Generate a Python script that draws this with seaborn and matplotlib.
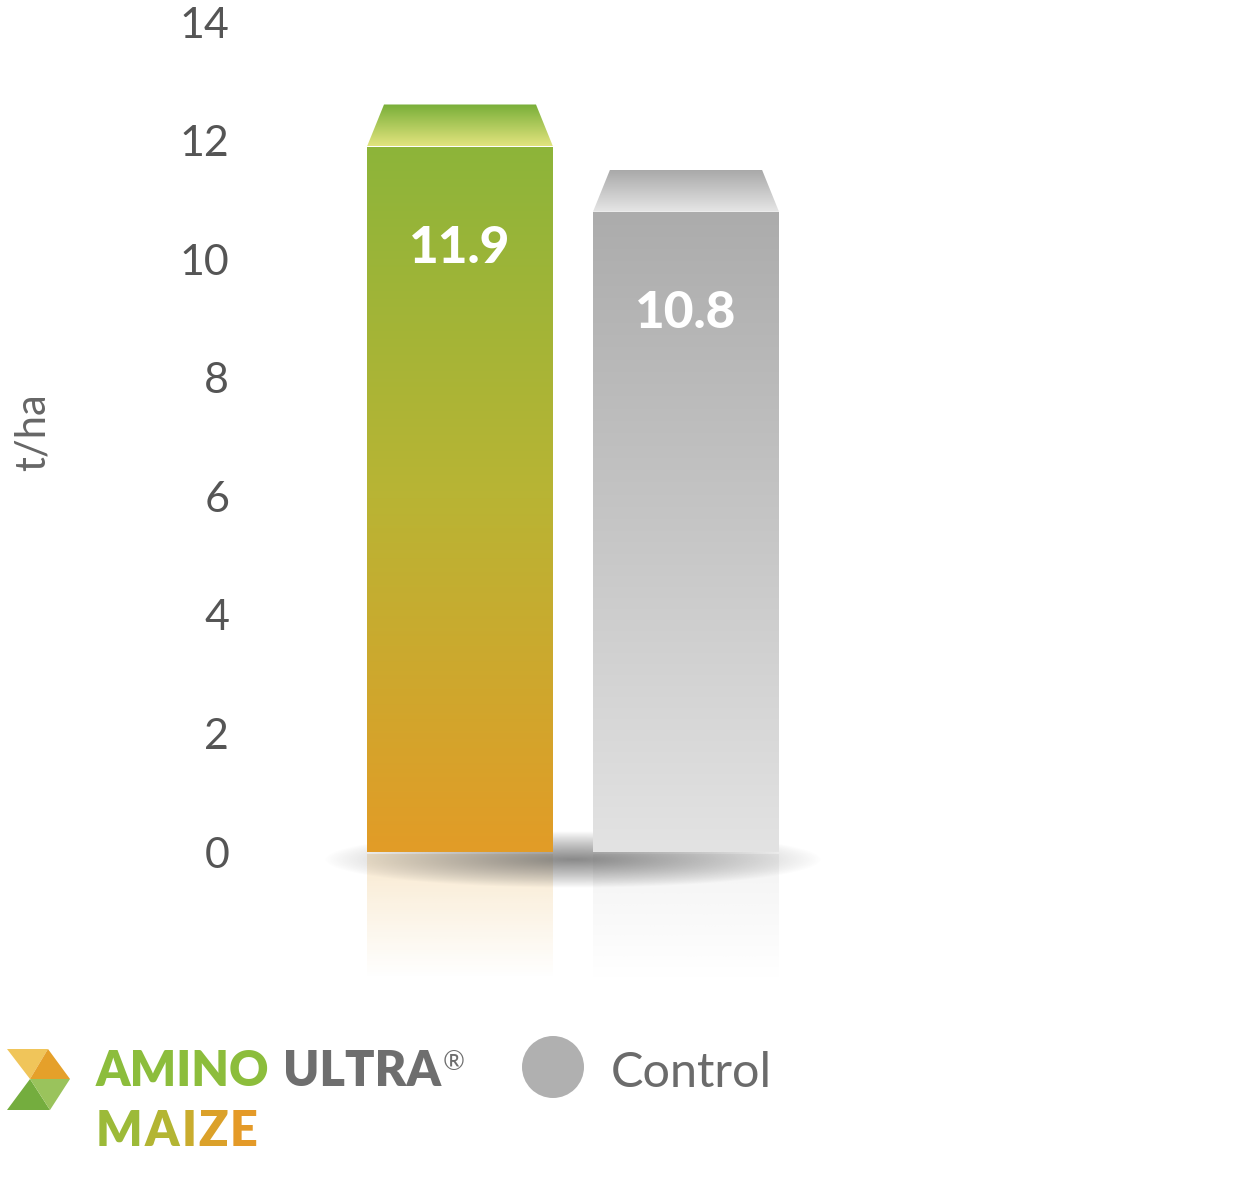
import numpy as np
import pandas as pd
import matplotlib.pyplot as plt
import matplotlib.colors as mcolors
from matplotlib.patches import Polygon, Circle
import seaborn as sns

# data
categories = ["AMINO ULTRA MAIZE", "Control"]
values = [11.9, 10.8]
value_labels = ["11.9", "10.8"]
yticks = [0, 2, 4, 6, 8, 10, 12, 14]
ylabel = "t/ha"

df = pd.DataFrame({"treatment": categories, "yield": values})

sns.set_style("white")
plt.rcParams["font.family"] = ["Lato", "DejaVu Sans"]

W, H = 1238, 1203
fig = plt.figure(figsize=(W / 100, H / 100), dpi=100)


def fx(px):
    return px / W


def fy(py):
    return 1 - py / H


# axes placed so that 0 -> y=852px, 14 -> y=22px
ppu = (852 - 22) / 14.0
ymin, ymax = -4.0, 14.3
ax_bottom = 852 + ymin * -ppu
ax_top = 852 - ymax * ppu
ax = fig.add_axes([fx(250), fy(ax_bottom), fx(1238 - 250), (ax_bottom - ax_top) / H])

sns.barplot(data=df, x="treatment", y="yield", hue="treatment", width=0.823,
            palette=["#a5b832", "#c8c8c8"], legend=False, ax=ax, zorder=3)

xl = (250 - 460) / 226.0
xr = (1238 - 460) / 226.0

grad_front = [("#8db53a", "#b9b434", "#e29c27"), ("#acacac", "#c6c6c6", "#e3e3e3")]
grad_top = [("#78ae38", "#e2e47e"), ("#a9a9a9", "#e6e6e6")]
refl_col = ["#e29c27", "#d8d8d8"]


def vgrad(cols, n=256):
    cmap = mcolors.LinearSegmentedColormap.from_list("g", cols)
    return cmap(np.linspace(0, 1, n))[:, None, :]


# soft ground shadow
sx = np.linspace(-1, 1, 400)
sy = np.linspace(-1, 1, 100)
SX, SY = np.meshgrid(sx, sy)
r = np.sqrt(SX ** 2 + SY ** 2)
alpha = np.clip(1 - r, 0, 1) ** 0.9 * 0.8
shadow = np.zeros((100, 400, 4))
shadow[..., :3] = 0.42
shadow[..., 3] = alpha
ax.imshow(shadow, extent=[-0.6, 1.6, -0.6, 0.35], aspect="auto", zorder=2,
          interpolation="bilinear")

for i, p in enumerate(ax.patches):
    x0, w, h = p.get_x(), p.get_width(), p.get_height()
    p.set_facecolor("none")
    p.set_edgecolor("none")
    # front face gradient (top -> bottom)
    im = ax.imshow(vgrad(grad_front[i]), extent=[x0, x0 + w, 0, h], aspect="auto",
                   zorder=3, interpolation="bilinear")
    im.set_clip_path(p)
    # top face (3D lid)
    inset = 17 / 226.0
    depth = 42 / ppu
    lid = Polygon([(x0, h), (x0 + w, h), (x0 + w - inset, h + depth), (x0 + inset, h + depth)],
                  closed=True, facecolor="none", edgecolor="none", zorder=3)
    ax.add_patch(lid)
    im2 = ax.imshow(vgrad(grad_top[i]), extent=[x0, x0 + w, h, h + depth], aspect="auto",
                    zorder=3, interpolation="bilinear")
    im2.set_clip_path(lid)
    # reflection
    rc = mcolors.to_rgb(refl_col[i])
    refl = np.zeros((128, 1, 4))
    refl[..., :3] = rc
    refl[:, 0, 3] = np.linspace(0.22, 0.0, 128) if i == 0 else np.linspace(0.3, 0.0, 128)
    ax.imshow(refl, extent=[x0, x0 + w, -2.15, -0.05], aspect="auto", zorder=1.5,
              interpolation="bilinear")
    # value label
    ax.text(p.get_x() + w / 2, h - 1.72, value_labels[i], ha="center", va="center",
            color="white", fontsize=37, fontweight="black", zorder=5)

ax.set_xlim(xl, xr)
ax.set_ylim(ymin, ymax)
ax.set_yticks(yticks)
ax.set_yticklabels([str(t) for t in yticks])
ax.tick_params(axis="y", length=0, pad=15, labelsize=31, labelcolor="#555555")
ax.set_xticks([])
ax.set_xlabel("")
ax.set_ylabel("")
for s in ax.spines.values():
    s.set_visible(False)

fig.text(fx(33), fy(432), ylabel, rotation=90, ha="center", va="center",
         fontsize=30, color="#666666")

# legend: logo
tris = [
    ([(7, 1049), (48, 1049), (30, 1079)], "#f0c55a"),
    ([(48, 1049), (70, 1079), (30, 1079)], "#e5a02a"),
    ([(30, 1079), (50, 1110), (7, 1110)], "#74ad3e"),
    ([(30, 1079), (70, 1079), (50, 1110)], "#9ac35c"),
]
for pts, c in tris:
    fig.patches.append(Polygon([(fx(a), fy(b)) for a, b in pts], closed=True,
                               transform=fig.transFigure, facecolor=c, edgecolor="none"))

t1 = fig.text(fx(96), fy(1071), "AMINO", ha="left", va="center", fontsize=35,
              fontweight="heavy", color="#8cbd3c")
fig.canvas.draw()
bb = t1.get_window_extent()
t2 = fig.text(bb.x1 / W + fx(13), fy(1071), "ULTRA", ha="left", va="center", fontsize=35,
              fontweight="heavy", color="#6e6e6e")
bb2 = t2.get_window_extent()
fig.text(bb2.x1 / W + fx(2), fy(1062), "®", ha="left", va="center", fontsize=19,
         color="#6e6e6e")

maize_cols = ["#9cba38", "#b3b533", "#c9ac2e", "#dba12a", "#e49a28"]
xpos = fx(96)
for ch, c in zip("MAIZE", maize_cols):
    t = fig.text(xpos, fy(1131), ch, ha="left", va="center", fontsize=35,
                 fontweight="heavy", color=c)
    xpos = t.get_window_extent().x1 / W + fx(2)

circ = Circle((553 / 100, (H - 1067) / 100), 0.31, transform=fig.dpi_scale_trans,
              facecolor="#b0b0b0", edgecolor="none")
fig.patches.append(circ)
fig.text(fx(611), fy(1073), "Control", ha="left", va="center", fontsize=35, color="#6b6b6b")

fig.savefig("out.png", dpi=100, facecolor="white")
